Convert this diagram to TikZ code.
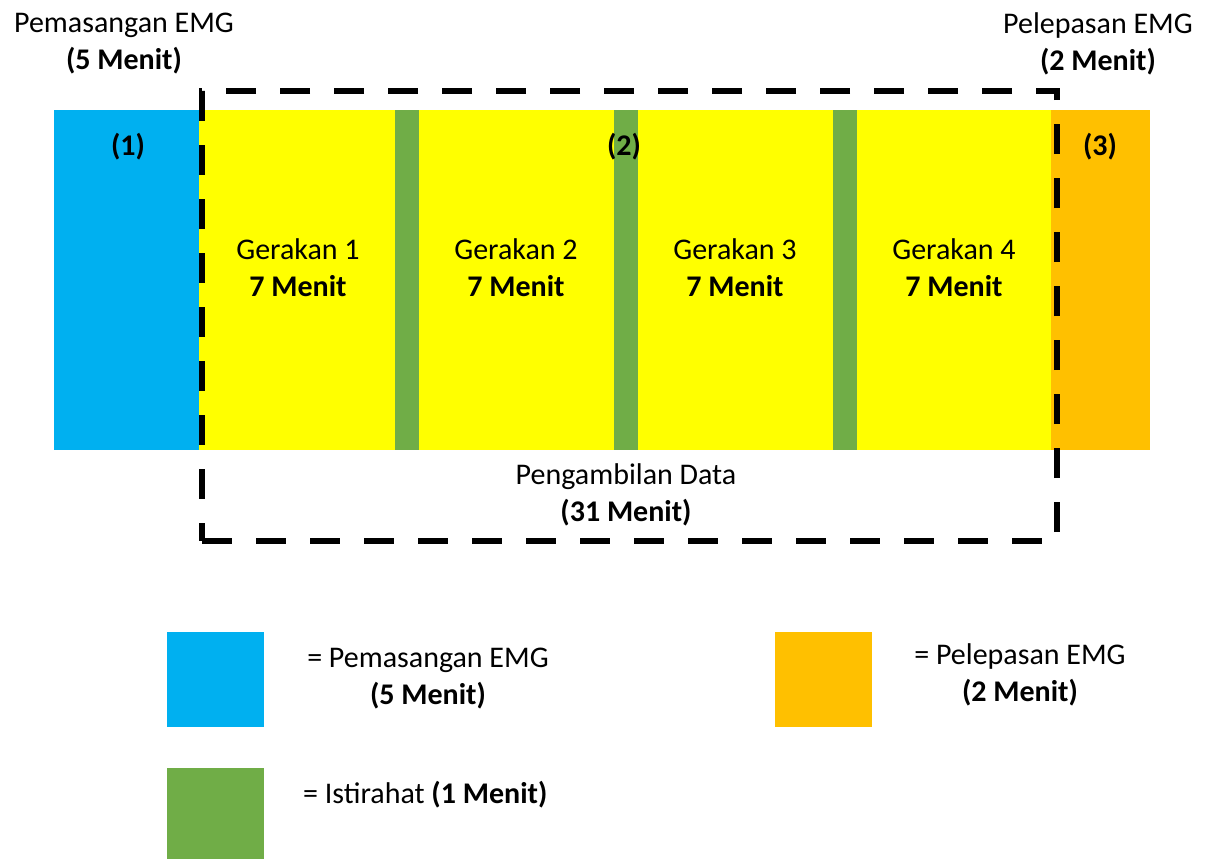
\documentclass[tikz,border=0pt]{standalone}
\usepackage{fontspec}
\setmainfont{Carlito}
\definecolor{cblue}{HTML}{00B0F0}
\definecolor{cyellow}{HTML}{FFFF00}
\definecolor{cgreen}{HTML}{70AD47}
\definecolor{corange}{HTML}{FFC000}
\tikzset{
  blk/.style={inner sep=0pt, outer sep=0pt, anchor=north west},
  txt/.style={inner sep=0pt, align=center, font=\fontsize{30}{37}\selectfont},
  dbox/.style={draw=black, line width=6pt, dash pattern=on 30pt off 24pt, inner sep=0pt, anchor=north west}
}
\begin{document}
\begin{tikzpicture}[x=1pt,y=-1pt]
\useasboundingbox (0,0) rectangle (1205,859);
% bar
\node[blk, fill=cblue, minimum width=145pt, minimum height=340pt] (pre) at (54,110) {};
\node[blk, fill=cyellow, minimum width=852pt, minimum height=340pt] (data) at (199,110) {};
\node[blk, fill=corange, minimum width=99pt, minimum height=340pt] (post) at (1051,110) {};
\node[blk, fill=cgreen, minimum width=24pt, minimum height=340pt] (r1) at (395,110) {};
\node[blk, fill=cgreen, minimum width=24pt, minimum height=340pt] (r2) at (614,110) {};
\node[blk, fill=cgreen, minimum width=24pt, minimum height=340pt] (r3) at (833,110) {};
% dashed box
\node[dbox, minimum width=855pt, minimum height=450pt] (box) at (199,88) {};
% top labels
\node[txt] (t1) at (124,44) {Pemasangan EMG\\\textbf{(5 Menit)}};
\node[txt] (t3) at (1098,44) {Pelepasan EMG\\\textbf{(2 Menit)}};
\node[txt] (n1) at (128,147) {\textbf{(1)}};
\node[txt] (n2) at (624,147) {\textbf{(2)}};
\node[txt] (n3) at (1100,147) {\textbf{(3)}};
\node[txt] (g1) at (298,268) {Gerakan 1\\\textbf{7 Menit}};
\node[txt] (g2) at (516,268) {Gerakan 2\\\textbf{7 Menit}};
\node[txt] (g3) at (735,268) {Gerakan 3\\\textbf{7 Menit}};
\node[txt] (g4) at (954,268) {Gerakan 4\\\textbf{7 Menit}};
\node[txt] (pd) at (626,495) {Pengambilan Data\\\textbf{(31 Menit)}};
% legend
\node[blk, fill=cblue, minimum width=97pt, minimum height=95pt] (lb) at (167,632) {};
\node[blk, fill=corange, minimum width=97pt, minimum height=95pt] (lo) at (775,632) {};
\node[blk, fill=cgreen, minimum width=97pt, minimum height=91pt] (lg) at (167,768) {};
\node[txt] (lbt) at (428,679) {= Pemasangan EMG\\\textbf{(5 Menit)}};
\node[txt] (lot) at (1020,675) {= Pelepasan EMG\\\textbf{(2 Menit)}};
\node[txt, anchor=west] (lgt) at (303,795) {= Istirahat \textbf{(1 Menit)}};
\end{tikzpicture}
\end{document}
